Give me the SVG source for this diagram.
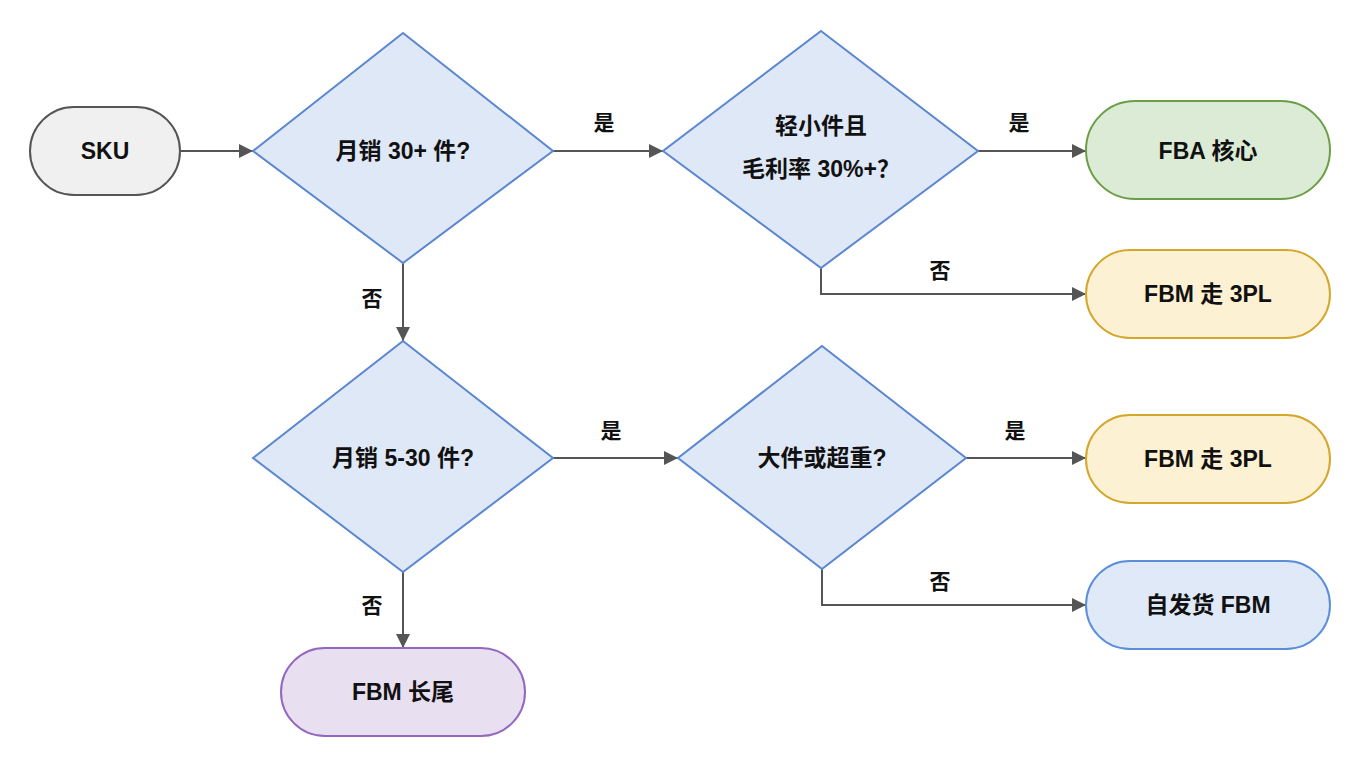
<svg xmlns="http://www.w3.org/2000/svg" width="1360" height="768" viewBox="0 0 1360 768">
<defs>
<marker id="ah" viewBox="0 0 10 10" refX="10" refY="5" markerWidth="16" markerHeight="14" markerUnits="userSpaceOnUse" orient="auto"><path d="M0,0 L10,5 L0,10 z" fill="#555"/></marker>
<style>
text{font-family:"Liberation Sans","Noto Sans CJK SC",sans-serif;font-size:23px;font-weight:bold;fill:#111;text-anchor:middle;dominant-baseline:central}
.dia{fill:#dfe8f7;stroke:#5b86d0;stroke-width:2}
.c{fill:none;stroke:#555;stroke-width:2;marker-end:url(#ah)}
.lbl{font-size:21px}
</style>
</defs>
<rect width="1360" height="768" fill="#fff"/>
<g id="connectors">
<line class="c" x1="180" y1="151" x2="253" y2="151"/>
<line class="c" x1="553" y1="151" x2="663" y2="151"/>
<line class="c" x1="978" y1="151" x2="1086" y2="151"/>
<polyline class="c" points="821,268 821,294 1086,294"/>
<line class="c" x1="403" y1="263" x2="403" y2="341"/>
<line class="c" x1="553" y1="458" x2="678" y2="458"/>
<line class="c" x1="966" y1="458" x2="1086" y2="458"/>
<polyline class="c" points="822,569 822,605 1086,605"/>
<line class="c" x1="403" y1="572" x2="403" y2="648"/>
<text class="lbl" x="604" y="122">是</text>
<text class="lbl" x="1019" y="122">是</text>
<text class="lbl" x="940" y="270">否</text>
<text class="lbl" x="372" y="298">否</text>
<text class="lbl" x="611" y="430">是</text>
<text class="lbl" x="1015" y="430">是</text>
<text class="lbl" x="940" y="581">否</text>
<text class="lbl" x="372" y="605">否</text>
</g>
<g id="sku"><rect x="30" y="107" width="150" height="88" rx="44" fill="#f0f0f0" stroke="#555" stroke-width="2"/><text x="105" y="151">SKU</text></g>
<g id="d1"><polygon class="dia" points="403,33 553,151 403,263 253,151"/><text x="403" y="151">月销 30+ 件?</text></g>
<g id="d2"><polygon class="dia" points="821,31 978,151 821,268 663,151"/><text x="821" y="126">轻小件且</text><text x="821" y="169">毛利率 30%+？</text></g>
<g id="fba"><rect x="1086" y="101" width="244" height="98" rx="49" fill="#dcebd5" stroke="#6a9f45" stroke-width="2"/><text x="1208" y="151">FBA 核心</text></g>
<g id="fbm3pl1"><rect x="1086" y="250" width="244" height="88" rx="44" fill="#fdf1d4" stroke="#d4a72c" stroke-width="2"/><text x="1208" y="294">FBM 走 3PL</text></g>
<g id="d3"><polygon class="dia" points="403,341 553,458 403,572 253,458"/><text x="403" y="458">月销 5-30 件?</text></g>
<g id="d4"><polygon class="dia" points="822,346 966,458 822,569 678,458"/><text x="822" y="458">大件或超重?</text></g>
<g id="fbm3pl2"><rect x="1086" y="415" width="244" height="88" rx="44" fill="#fdf1d4" stroke="#d4a72c" stroke-width="2"/><text x="1208" y="459">FBM 走 3PL</text></g>
<g id="self"><rect x="1086" y="561" width="244" height="88" rx="44" fill="#dfe9f8" stroke="#5b8fd9" stroke-width="2"/><text x="1208" y="605">自发货 FBM</text></g>
<g id="longtail"><rect x="281" y="648" width="244" height="88" rx="44" fill="#e8dff1" stroke="#9467c0" stroke-width="2"/><text x="403" y="692">FBM 长尾</text></g>
</svg>
